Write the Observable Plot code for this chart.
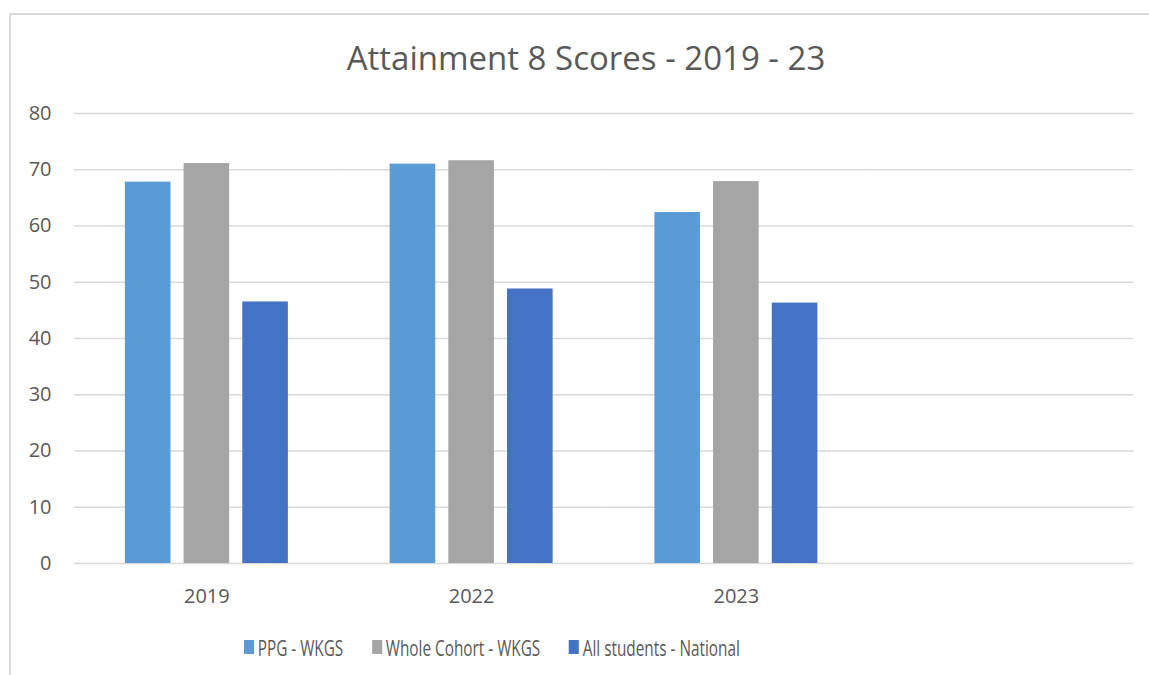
<!DOCTYPE html>
<html>
<head>
<meta charset="utf-8">
<script src="https://cdn.jsdelivr.net/npm/d3@7"></script>
<script src="https://cdn.jsdelivr.net/npm/@observablehq/plot@0.6"></script>
<style>
  html, body { margin: 0; padding: 0; background: #fff; }
  #wrap { position: relative; width: 1149px; height: 675px; overflow: hidden; font-family: "Open Sans", sans-serif; color: #595959; }
  #border { position: absolute; left: 9px; top: 13px; width: 1200px; height: 700px; border-left: 2px solid #dadada; border-top: 2px solid #dadada; }
  #title { position: absolute; left: 0; width: 1172px; top: 34.5px; text-align: center; font-size: 33px; line-height: normal; white-space: nowrap; }
  #chart { position: absolute; left: 0; top: 90px; }
  #legend { position: absolute; left: 244px; top: 633px; height: 28px; display: flex; align-items: center; transform: scaleX(0.72); transform-origin: 0 50%; font-size: 21.3px; white-space: nowrap; }
  .item { display: flex; align-items: center; margin-right: 40px; }
  .sw { width: 14px; height: 14px; margin-right: 5px; }
</style>
</head>
<body>
<div id="wrap">
  <div id="border"></div>
  <div id="title">Attainment 8 Scores - 2019 - 23</div>
  <div id="chart"></div>
  <div id="legend"></div>
</div>
<script>
// Data
const categories = ["2019", "2022", "2023", ""];
const years = ["2019", "2022", "2023"];
const seriesNames = ["PPG - WKGS", "Whole Cohort - WKGS", "All students - National"];
const ppgWKGS = [67.8, 71.0, 62.4];
const wholeCohortWKGS = [71.1, 71.6, 67.9];
const allStudentsNational = [46.5, 48.8, 46.3];
const seriesColors = ["#5B9BD5", "#A5A5A5", "#4472C4"];
const yTicks = [0, 10, 20, 30, 40, 50, 60, 70, 80];

const seriesValues = [ppgWKGS, wholeCohortWKGS, allStudentsNational];
const rows = [];
years.forEach((y, i) => {
  seriesNames.forEach((s, j) => rows.push({year: y, series: s, value: seriesValues[j][i]}));
});
// gridlines repeated in every category slot (including the empty fourth one)
const gridRows = [];
categories.forEach(c => yTicks.forEach(t => gridRows.push({cat: c, tick: t})));

const plot = Plot.plot({
  width: 1149,
  height: 530,
  marginTop: 23,
  marginBottom: 57,
  marginLeft: 74,
  marginRight: 16,
  style: {fontFamily: "Open Sans, sans-serif", fontSize: "20px", color: "#595959", background: "transparent"},
  fx: {domain: categories, padding: 0, round: false, axis: "bottom", label: null, tickSize: 0, tickPadding: 25},
  x: {domain: seriesNames, axis: null, round: false, paddingInner: 0.223, paddingOuter: 0.867},
  y: {domain: [0, 80], ticks: yTicks, label: null, tickSize: 0, tickPadding: 23},
  color: {domain: seriesNames, range: seriesColors},
  marks: [
    Plot.ruleY(gridRows, {fx: "cat", y: "tick", stroke: "#d9d9d9", strokeWidth: 1.3}),
    Plot.barY(rows, {fx: "year", x: "series", y: "value", fill: "series"})
  ]
});
document.getElementById("chart").appendChild(plot);

// Legend
const legend = document.getElementById("legend");
seriesNames.forEach((s, i) => {
  const item = document.createElement("div");
  item.className = "item";
  const sw = document.createElement("div");
  sw.className = "sw";
  sw.style.background = seriesColors[i];
  const t = document.createElement("span");
  t.textContent = s;
  item.appendChild(sw);
  item.appendChild(t);
  legend.appendChild(item);
});
</script>
</body>
</html>
